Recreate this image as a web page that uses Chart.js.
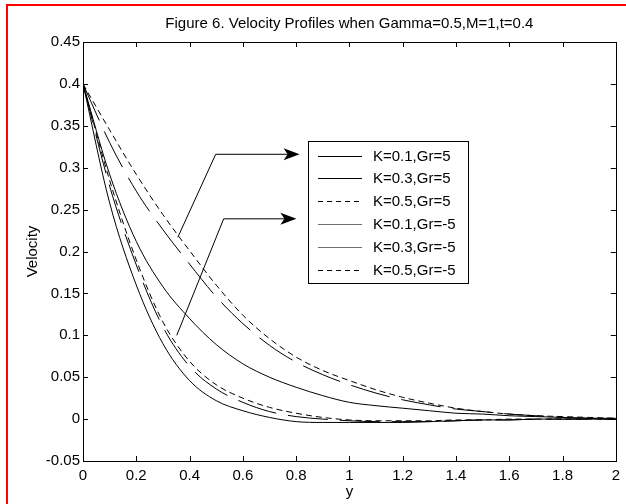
<!DOCTYPE html>
<html>
<head>
<meta charset="utf-8">
<script src="https://cdn.jsdelivr.net/npm/chart.js@4.4.1/dist/chart.umd.min.js"></script>
<style>
  html, body { margin: 0; padding: 0; background: #fff; }
  #wrap { width: 626px; height: 504px; }
</style>
</head>
<body>
<div id="wrap"><canvas id="chart" width="626" height="504"></canvas></div>
<script>
// Distance from the plate, y
const yPositions = [0.0, 0.1, 0.2, 0.3, 0.4, 0.5, 0.6, 0.7, 0.8, 0.9, 1.0,
                    1.1, 1.2, 1.3, 1.4, 1.5, 1.6, 1.7, 1.8, 1.9, 2.0];

// Velocity profiles for each permeability K and Grashof number Gr
const velK01Gr5    = [0.400, 0.292, 0.212, 0.158, 0.120, 0.089, 0.066, 0.050, 0.038, 0.028, 0.020,
                      0.016, 0.013, 0.010, 0.007, 0.006, 0.004, 0.003, 0.002, 0.001, 0.001];
const velK03Gr5    = [0.400, 0.330, 0.272, 0.226, 0.185, 0.146, 0.114, 0.088, 0.068, 0.053, 0.041,
                      0.031, 0.023, 0.017, 0.012, 0.009, 0.006, 0.004, 0.002, 0.001, 0.000];
const velK05Gr5    = [0.400, 0.345, 0.292, 0.244, 0.201, 0.160, 0.124, 0.096, 0.074, 0.058, 0.046,
                      0.035, 0.026, 0.019, 0.013, 0.009, 0.006, 0.004, 0.003, 0.002, 0.001];
const velK01GrNeg5 = [0.400, 0.258, 0.160, 0.090, 0.046, 0.022, 0.010, 0.002, -0.003, -0.004, -0.004,
                      -0.004, -0.004, -0.003, -0.002, -0.001, -0.001, 0.000, 0.000, 0.000, 0.000];
const velK03GrNeg5 = [0.400, 0.278, 0.184, 0.110, 0.063, 0.036, 0.020, 0.009, 0.003, 0.000, -0.002,
                      -0.003, -0.003, -0.003, -0.002, -0.001, -0.001, 0.000, 0.000, 0.000, 0.000];
const velK05GrNeg5 = [0.400, 0.285, 0.190, 0.116, 0.069, 0.041, 0.025, 0.014, 0.007, 0.002, -0.001,
                      -0.002, -0.002, -0.002, -0.001, -0.001, 0.000, 0.000, 0.000, 0.000, 0.000];

const seriesLabels = ['K=0.1,Gr=5', 'K=0.3,Gr=5', 'K=0.5,Gr=5',
                      'K=0.1,Gr=-5', 'K=0.3,Gr=-5', 'K=0.5,Gr=-5'];
const seriesValues = [velK01Gr5, velK03Gr5, velK05Gr5, velK01GrNeg5, velK03GrNeg5, velK05GrNeg5];

const xTickLabels = ['0', '0.2', '0.4', '0.6', '0.8', '1', '1.2', '1.4', '1.6', '1.8', '2'];
const yTickLabels = ['-0.05', '0', '0.05', '0.1', '0.15', '0.2', '0.25', '0.3', '0.35', '0.4', '0.45'];

const chartTitle = 'Figure 6. Velocity Profiles when Gamma=0.5,M=1,t=0.4';
const xAxisTitle = 'y';
const yAxisTitle = 'Velocity';

// Annotation arrows pointing at the legend, in data coordinates (start, bend, tip)
const arrowPaths = [
  [[0.356, 0.217], [0.498, 0.316], [0.813, 0.316]],
  [[0.352, 0.100], [0.528, 0.239], [0.801, 0.239]]
];

// ---- styling ----
const FONT = "'Liberation Sans', Arial, Helvetica, sans-serif";
const lineColors   = ['#000', '#000', '#000', '#000', '#000', '#000'];
const plotDash     = [[], [40, 12], [6, 4], [], [40, 12], [6, 4]];
const legendDash   = [[], [], [5, 4], [], [], [5, 4]];
const legendColors = ['#000', '#000', '#000', '#707070', '#707070', '#000'];

function fmtTick(labels, min, step) {
  return function (value) {
    const i = Math.round((value - min) / step);
    return labels[i] !== undefined ? labels[i] : '';
  };
}

const datasets = seriesValues.map((vals, i) => ({
  label: seriesLabels[i],
  data: vals.map((v, j) => ({ x: yPositions[j], y: v })),
  borderColor: lineColors[i],
  borderWidth: 1,
  borderDash: plotDash[i],
  pointRadius: 0,
  fill: false,
  cubicInterpolationMode: 'monotone'
}));

// Draws the axes box, inward ticks, titles, annotation arrows and the boxed legend
const decorations = {
  id: 'decorations',
  beforeDraw(chart) {
    const ctx = chart.ctx;
    ctx.save();
    ctx.fillStyle = '#fff';
    ctx.fillRect(0, 0, chart.width, chart.height);
    ctx.restore();
  },
  afterDatasetsDraw(chart) {
    const ctx = chart.ctx;
    const a = chart.chartArea;
    const xs = chart.scales.x, ys = chart.scales.y;
    ctx.save();
    ctx.strokeStyle = '#000';
    ctx.lineWidth = 1;
    // inward tick marks on all four sides
    ctx.beginPath();
    xs.ticks.forEach(t => {
      const px = Math.round(xs.getPixelForValue(t.value)) + 0.5;
      ctx.moveTo(px, a.bottom); ctx.lineTo(px, a.bottom - 5);
      ctx.moveTo(px, a.top);    ctx.lineTo(px, a.top + 5);
    });
    ys.ticks.forEach(t => {
      const py = Math.round(ys.getPixelForValue(t.value)) + 0.5;
      ctx.moveTo(a.left, py);  ctx.lineTo(a.left + 5, py);
      ctx.moveTo(a.right, py); ctx.lineTo(a.right - 5, py);
    });
    ctx.stroke();
    // axes box
    ctx.strokeRect(Math.round(a.left) + 0.5, Math.round(a.top) + 0.5,
                   Math.round(a.right - a.left), Math.round(a.bottom - a.top));

    // arrows
    arrowPaths.forEach(path => {
      const pts = path.map(p => [xs.getPixelForValue(p[0]), ys.getPixelForValue(p[1])]);
      const tip = pts[pts.length - 1];
      const prev = pts[pts.length - 2];
      const ang = Math.atan2(tip[1] - prev[1], tip[0] - prev[0]);
      const len = 16, half = 6, notch = 4;
      ctx.beginPath();
      ctx.moveTo(pts[0][0], pts[0][1]);
      for (let i = 1; i < pts.length - 1; i++) ctx.lineTo(pts[i][0], pts[i][1]);
      ctx.lineTo(tip[0] - Math.cos(ang) * (len - notch), tip[1] - Math.sin(ang) * (len - notch));
      ctx.stroke();
      const bx = tip[0] - Math.cos(ang) * len, by = tip[1] - Math.sin(ang) * len;
      const nx = -Math.sin(ang), ny = Math.cos(ang);
      ctx.beginPath();
      ctx.moveTo(tip[0], tip[1]);
      ctx.lineTo(bx + nx * half, by + ny * half);
      ctx.lineTo(tip[0] - Math.cos(ang) * (len - notch), tip[1] - Math.sin(ang) * (len - notch));
      ctx.lineTo(bx - nx * half, by - ny * half);
      ctx.closePath();
      ctx.fillStyle = '#000';
      ctx.fill();
    });

    // legend box
    const lx = 308.5, ly = 141.5, lw = 160, lh = 142;
    ctx.fillStyle = '#fff';
    ctx.fillRect(lx, ly, lw, lh);
    ctx.strokeStyle = '#000';
    ctx.strokeRect(lx, ly, lw, lh);
    ctx.font = '15px ' + FONT;
    ctx.textBaseline = 'middle';
    ctx.textAlign = 'left';
    chart.data.datasets.forEach((ds, i) => {
      const cy = Math.round(ly + 14 + i * 22.8) + 0.5;
      ctx.beginPath();
      ctx.setLineDash(legendDash[i]);
      ctx.strokeStyle = legendColors[i];
      ctx.moveTo(318, cy); ctx.lineTo(362, cy);
      ctx.stroke();
      ctx.setLineDash([]);
      ctx.fillStyle = '#000';
      ctx.fillText(ds.label, 373, cy);
    });
    ctx.restore();
  },
  afterDraw(chart) {
    const ctx = chart.ctx;
    const a = chart.chartArea;
    ctx.save();
    ctx.fillStyle = '#000';
    ctx.font = '15px ' + FONT;
    ctx.textAlign = 'center';
    ctx.textBaseline = 'middle';
    ctx.fillText(chartTitle, (a.left + a.right) / 2, 24);
    ctx.fillText(xAxisTitle, (a.left + a.right) / 2, 492);
    ctx.translate(33, (a.top + a.bottom) / 2);
    ctx.rotate(-Math.PI / 2);
    ctx.fillText(yAxisTitle, 0, 0);
    ctx.restore();
    // red outer frame
    ctx.save();
    ctx.fillStyle = '#ff0000';
    ctx.fillRect(6, 4, chart.width - 6, 2);
    ctx.fillRect(6, 4, 2, chart.height - 4);
    ctx.restore();
  }
};

new Chart(document.getElementById('chart'), {
  type: 'line',
  data: { datasets },
  options: {
    responsive: false,
    animation: false,
    devicePixelRatio: 1,
    layout: { padding: { top: 42, right: 9, left: 0, bottom: 0 } },
    plugins: {
      legend: { display: false },
      title: { display: false },
      tooltip: { enabled: false }
    },
    scales: {
      x: {
        type: 'linear',
        min: 0, max: 2,
        grid: { display: false, drawTicks: false },
        border: { display: false },
        ticks: {
          stepSize: 0.2,
          padding: 6,
          color: '#000',
          font: { family: FONT, size: 15 },
          maxRotation: 0,
          autoSkip: false,
          callback: fmtTick(xTickLabels, 0, 0.2)
        },
        afterFit(scale) { scale.height = 43; }
      },
      y: {
        type: 'linear',
        min: -0.05, max: 0.45,
        grid: { display: false, drawTicks: false },
        border: { display: false },
        ticks: {
          stepSize: 0.05,
          padding: 3,
          color: '#000',
          font: { family: FONT, size: 15 },
          autoSkip: false,
          callback: fmtTick(yTickLabels, -0.05, 0.05)
        },
        afterFit(scale) { scale.width = 83; }
      }
    }
  },
  plugins: [decorations]
});
</script>
</body>
</html>
